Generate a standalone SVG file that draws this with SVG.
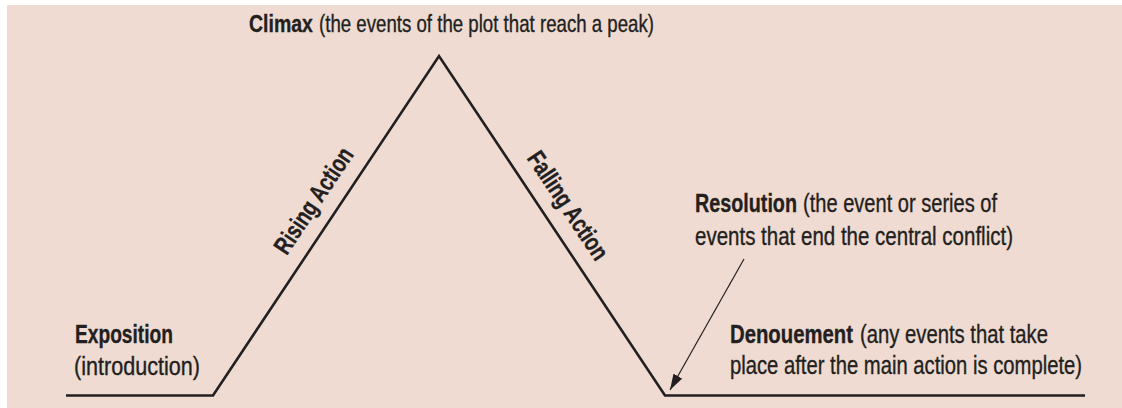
<svg xmlns="http://www.w3.org/2000/svg" width="1122" height="408" viewBox="0 0 1122 408">
  <style>
    text { font-family: "Liberation Sans", Arial, sans-serif; font-size: 25px; fill: #231f20; stroke: #231f20; stroke-width: 0.35; }
    .b { font-weight: bold; }
    .top { font-size: 24px; }
    .plot { fill: none; stroke: #231f20; stroke-width: 2.6; stroke-linejoin: miter; }
    .ptr { fill: none; stroke: #231f20; stroke-width: 1.2; }
  </style>
  <defs>
    <marker id="ah" viewBox="0 0 16 10" refX="16" refY="5" markerWidth="16" markerHeight="10" markerUnits="userSpaceOnUse" orient="auto">
      <path d="M0,0 L16,5 L0,10 Z" fill="#231f20"/>
    </marker>
  </defs>
  <rect x="0" y="0" width="1122" height="408" fill="#ffffff"/>
  <rect x="7" y="5" width="1115" height="403" fill="#efdbd1"/>

  <g id="connectors">
    <polyline class="plot" points="66,395.5 213,395.5 439,56 665,395.5 1085,395.5"/>
    <line class="ptr" x1="744" y1="259" x2="670" y2="390" marker-end="url(#ah)"/>
  </g>

  <g id="climax">
    <text class="b top" x="0" y="0" transform="translate(249 32) scale(0.78 1)" textLength="82" lengthAdjust="spacingAndGlyphs">Climax</text>
    <text class="top" x="0" y="0" transform="translate(319 32) scale(0.78 1)" textLength="429.5" lengthAdjust="spacingAndGlyphs">(the events of the plot that reach a peak)</text>
  </g>

  <g id="exposition">
    <text class="b" x="0" y="0" transform="translate(75 343) scale(0.76 1)" textLength="128.9" lengthAdjust="spacingAndGlyphs">Exposition</text>
    <text x="0" y="0" transform="translate(74 375) scale(0.76 1)" textLength="165.8" lengthAdjust="spacingAndGlyphs">(introduction)</text>
  </g>

  <g id="rising-action">
    <text class="b" x="0" y="0" text-anchor="middle" transform="translate(320.6 205.2) rotate(-56.3) scale(0.76 1)" textLength="160.5" lengthAdjust="spacingAndGlyphs">Rising Action</text>
  </g>

  <g id="falling-action">
    <text class="b" x="0" y="0" text-anchor="middle" transform="translate(561 210.2) rotate(56.3) scale(0.76 1)" textLength="164.5" lengthAdjust="spacingAndGlyphs">Falling Action</text>
  </g>

  <g id="resolution">
    <text class="b" x="0" y="0" transform="translate(695 212) scale(0.76 1)" textLength="134.2" lengthAdjust="spacingAndGlyphs">Resolution</text>
    <text x="0" y="0" transform="translate(803 212) scale(0.76 1)" textLength="255.3" lengthAdjust="spacingAndGlyphs">(the event or series of</text>
    <text x="0" y="0" transform="translate(695 245) scale(0.76 1)" textLength="418.4" lengthAdjust="spacingAndGlyphs">events that end the central conflict)</text>
  </g>

  <g id="denouement">
    <text class="b" x="0" y="0" transform="translate(730 343) scale(0.76 1)" textLength="161.8" lengthAdjust="spacingAndGlyphs">Denouement</text>
    <text x="0" y="0" transform="translate(860 343) scale(0.76 1)" textLength="247.4" lengthAdjust="spacingAndGlyphs">(any events that take</text>
    <text x="0" y="0" transform="translate(730 374) scale(0.76 1)" textLength="463.2" lengthAdjust="spacingAndGlyphs">place after the main action is complete)</text>
  </g>
</svg>
